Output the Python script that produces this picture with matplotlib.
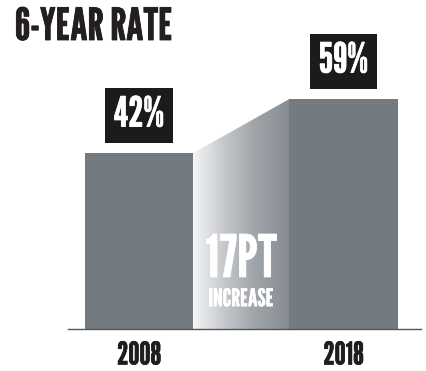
import numpy as np
import matplotlib
matplotlib.use("Agg")
import matplotlib.pyplot as plt
from matplotlib.colors import LinearSegmentedColormap
from matplotlib.patches import Polygon
import matplotlib.patheffects as pe

years = ["2008", "2018"]
rates = [42, 59]
title = "6-YEAR RATE"
inc_big = "17PT"
inc_small = "INCREASE"

FONT = ["League Gothic", "DejaVu Sans"]
BAR = "#737a80"
DARK = "#1c1a1b"
BASE = -13.4          # the bars are not drawn from zero in the original
W = 0.53


def bold(c, w=0.5):
    return [pe.withStroke(linewidth=w, foreground=c)]


fig = plt.figure(figsize=(4.26, 3.71), dpi=100)
ax = fig.add_axes([0, 0, 1, 1])
ax.set_xlim(-0.6797, 1.4034)
ax.set_ylim(-26.62, 90.19)
ax.axis("off")

x = np.arange(len(years))
heights = [r - BASE for r in rates]
ax.bar(x, heights, bottom=BASE, width=W, color=BAR, zorder=2)

# gradient wedge between the two bars
x0, x1 = x[0] + W / 2, x[1] - W / 2
cmap = LinearSegmentedColormap.from_list("g", ["#f4f5f6", "#c3c6ca", "#9da2a7", "#868c92"])
grad = np.linspace(0, 1, 256).reshape(1, -1)
im = ax.imshow(grad, cmap=cmap, extent=[x0, x1, BASE, rates[1]], aspect="auto", zorder=1)
poly = Polygon([(x0, BASE), (x0, rates[0]), (x1, rates[1]), (x1, BASE)], closed=True,
               facecolor="none", edgecolor="none")
ax.add_patch(poly)
im.set_clip_path(poly)

ax.plot([-0.347, 1.379], [BASE, BASE], color="#555555", lw=1, zorder=3)

for xi, r in zip(x, rates):
    ax.annotate(f"{r}%", (xi, r), xytext=(0, 19), textcoords="offset points",
                ha="center", va="baseline", fontsize=30, family=FONT, color="white",
                path_effects=bold("white", 0.5),
                bbox=dict(boxstyle="square,pad=0.2", fc=DARK, ec="none"))

for xi, y in zip(x, years):
    ax.annotate(y, (xi, BASE), xytext=(0, -25.5), textcoords="offset points",
                ha="center", va="baseline", fontsize=22.5, family=FONT, color="#1f1d1e",
                path_effects=bold("#1f1d1e", 0.5))

mid = (x[0] + x[1]) / 2
ax.text(mid, 3.0, inc_big, ha="center", va="baseline", fontsize=42, family=FONT,
        color="white", zorder=4, path_effects=bold("white", 0.6))
ax.text(mid, -6.2, inc_small, ha="center", va="baseline", fontsize=17.5, family=FONT,
        color="white", zorder=4, path_effects=bold("white", 0.4))

fig.text(15 / 426, 1 - 40 / 371, title, ha="left", va="baseline", fontsize=32,
         family=FONT, color="#231f20", path_effects=bold("#231f20", 0.6))

fig.savefig("out.png", dpi=100)
